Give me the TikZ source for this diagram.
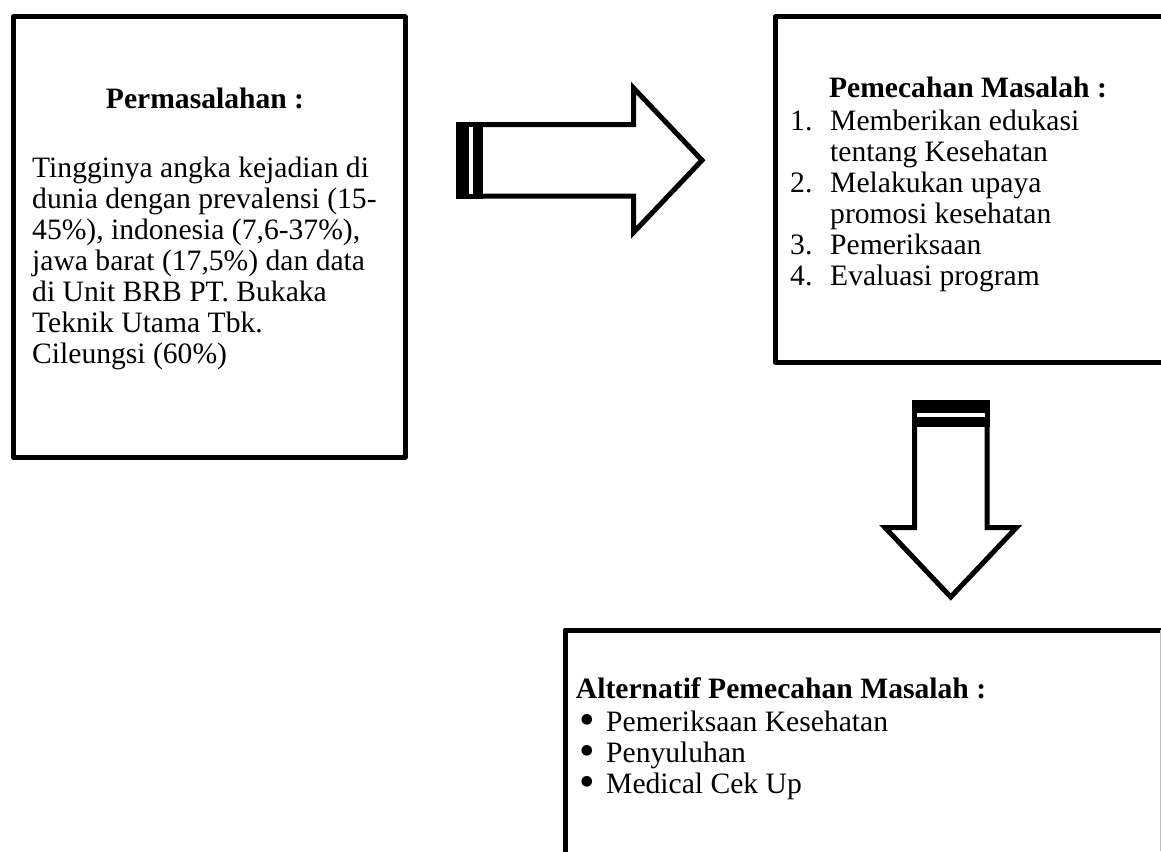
\documentclass[tikz,border=0pt]{standalone}
\usepackage{fontspec}
\setmainfont{Liberation Serif}
\usetikzlibrary{positioning}
\newcommand{\plainlines}[1]{%
  \begin{tabular}[t]{@{}l@{}}
    #1
  \end{tabular}
}
\newcommand{\numlines}[1]{%
  \begin{tabular}[t]{@{}p{40pt}@{}l@{}}
    #1
  \end{tabular}
}
\newcommand{\dotlines}[1]{%
  \begin{tabular}[t]{@{}p{27pt}@{}l@{}}
    #1
  \end{tabular}
}
\newcommand{\bigdot}{\raisebox{-3pt}{\scalebox{1.5}{\textbullet}}}

\begin{document}
\begin{tikzpicture}[
      x=1pt, y=-1pt,
      every node/.style={inner sep=0pt,font=\fontsize{29.6}{31}\selectfont},
      frame/.style={draw,line width=5pt,line join=round,anchor=north west},
      heading/.style={font=\fontsize{29.6}{31}\selectfont\bfseries,anchor=base},
      body/.style={anchor=base west},
      blockarrow/.style={draw,line width=5pt,line join=miter,fill=white}
    ]
      \useasboundingbox (0,0) rectangle (1161,851);
      \begin{scope}
        \clip (0,0) rectangle (1161,851);
        % the three boxes
        \node[frame,minimum width=392pt,minimum height=440pt] (problem) at (10.5,14.5) {};
        \node[frame,minimum width=500pt,minimum height=345pt] (solution) at (772.5,14.5) {};
        \node[frame,minimum width=700pt,minimum height=300pt] (choice) at (562.5,627.5) {};
        \draw[gray!50,line width=0.8pt] (1160,630) -- (1160,851);

        % texts
        \node[heading] (problemtitle) at (205,108) {Permasalahan :};
        \node[body] (problemtext) at (32,177) {\plainlines{
          Tingginya angka kejadian di\\
          dunia dengan prevalensi (15-\\
          45\%), indonesia (7,6-37\%),\\
          jawa barat (17,5\%) dan data\\
          di Unit BRB PT. Bukaka\\
          Teknik Utama Tbk.\\
          Cileungsi (60\%)}};

        \node[heading] (solutiontitle) at (968,97) {Pemecahan Masalah :};
        \node[body] (solutiontext) at (790,130) {\numlines{
          1. & Memberikan edukasi\\
             & tentang Kesehatan\\
          2. & Melakukan upaya\\
             & promosi kesehatan\\
          3. & Pemeriksaan\\
          4. & Evaluasi program}};

        \node[heading] (choicetitle) at (781,698) {Alternatif Pemecahan Masalah :};
        \node[body] (choicetext) at (579,731) {\dotlines{
          \bigdot & Pemeriksaan Kesehatan\\
          \bigdot & Penyuluhan\\
          \bigdot & Medical Cek Up}};

        % right arrow
        \draw[blockarrow] (460,124.5) -- (633.5,124.5) -- (633.5,88) -- (702,160.25)
          -- (633.5,232.5) -- (633.5,196) -- (460,196) -- cycle;
        \fill (456,122) rectangle (483,198.5);
        \fill[white] (469.3,127) rectangle (473.3,193.5);

        % down arrow
        \draw[blockarrow] (914.5,404) -- (914.5,527.5) -- (885,527.5) -- (950.75,597)
          -- (1016.5,527.5) -- (987,527.5) -- (987,404) -- cycle;
        \fill (912,400) rectangle (989.5,427);
        \fill[white] (917,413) rectangle (984.5,417);
      \end{scope}
    \end{tikzpicture}
\end{document}
